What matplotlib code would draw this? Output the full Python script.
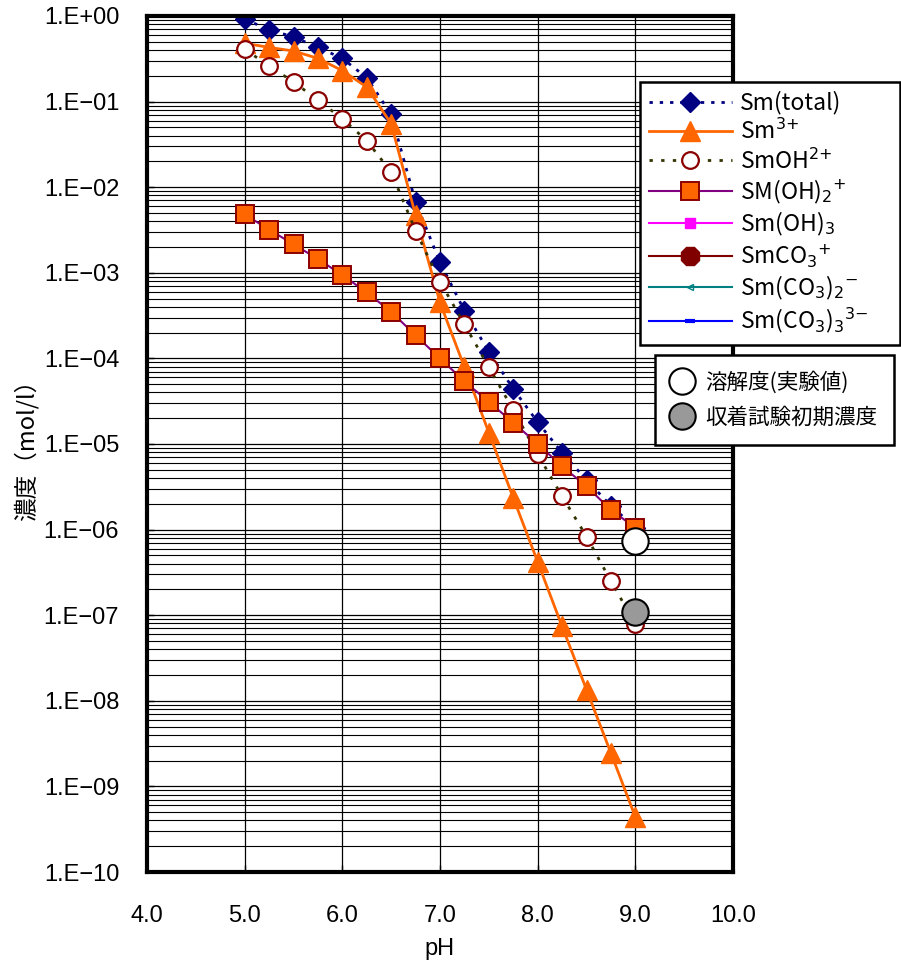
import numpy as np
import matplotlib
matplotlib.use("Agg")
import matplotlib.pyplot as plt
from matplotlib.ticker import FixedLocator, LogLocator, NullFormatter

plt.rcParams['font.family'] = ['Liberation Sans', 'Noto Sans CJK JP', 'DejaVu Sans']
plt.rcParams['mathtext.fontset'] = 'dejavusans'

# pH values of the calculated species
ph = [5.0, 5.25, 5.5, 5.75, 6.0, 6.25, 6.5, 6.75, 7.0, 7.25, 7.5, 7.75, 8.0, 8.25, 8.5, 8.75, 9.0]

sm_total = [0.92, 0.69, 0.57, 0.43, 0.32, 0.19, 0.071, 6.7e-3, 1.33e-3, 3.6e-4, 1.2e-4,
            4.4e-5, 1.8e-5, 7.9e-6, 3.8e-6, 1.9e-6, 1.05e-6]
sm3 = [0.48, 0.43, 0.39, 0.32, 0.23, 0.148, 0.055, 4.7e-3, 4.5e-4, 7.9e-5, 1.36e-5,
       2.35e-6, 4.2e-7, 7.4e-8, 1.35e-8, 2.45e-9, 4.4e-10]
smoh = [0.41, 0.26, 0.17, 0.104, 0.063, 0.035, 0.015, 3.1e-3, 7.9e-4, 2.5e-4, 7.9e-5,
        2.5e-5, 7.6e-6, 2.45e-6, 8.3e-7, 2.5e-7, 7.9e-8]
smoh2 = [4.8e-3, 3.2e-3, 2.15e-3, 1.45e-3, 9.4e-4, 5.9e-4, 3.5e-4, 1.86e-4, 1.0e-4, 5.4e-5,
         3.1e-5, 1.78e-5, 1.0e-5, 5.5e-6, 3.2e-6, 1.7e-6, 1.05e-6]
# species below 1E-10 over the whole range (legend only)
smoh3 = []
smco3 = []
smco3_2 = []
smco3_3 = []

# experimental points
exp_ph = [9.0]
solubility = [7.4e-7]
initial_conc = [1.1e-7]

x_ticks = [4.0, 5.0, 6.0, 7.0, 8.0, 9.0, 10.0]
x_labels = ['4.0', '5.0', '6.0', '7.0', '8.0', '9.0', '10.0']
y_ticks = [1e0, 1e-1, 1e-2, 1e-3, 1e-4, 1e-5, 1e-6, 1e-7, 1e-8, 1e-9, 1e-10]
y_labels = ['1.E+00', '1.E\u221201', '1.E\u221202', '1.E\u221203', '1.E\u221204', '1.E\u221205',
            '1.E\u221206', '1.E\u221207', '1.E\u221208', '1.E\u221209', '1.E\u221210']

fig = plt.figure(figsize=(9.01, 9.68), dpi=100)
ax = fig.add_axes([147 / 901, 1 - 872 / 968, 586 / 901, 856 / 968])
ax.set_yscale('log')
ax.set_xlim(4, 10)
ax.set_ylim(1e-10, 1)

# grid
ax.yaxis.set_minor_locator(LogLocator(base=10, subs=np.arange(2, 10), numticks=200))
ax.yaxis.set_minor_formatter(NullFormatter())
ax.grid(True, which='major', axis='both', color='black', lw=0.9)
ax.grid(True, which='minor', axis='y', color='black', lw=0.8)
ax.set_axisbelow(True)

h_total, = ax.plot(ph, sm_total, color='#000080', ls=(0, (1.2, 2.5)), lw=2,
                   marker='D', ms=10, mfc='#000080', mec='#000080', label='Sm(total)')
h_sm3, = ax.plot(ph, sm3, color='#FF6600', lw=2, marker='^', ms=15,
                 mfc='#FF6600', mec='#FF6600', label='Sm$^{3{+}}$')
h_smoh, = ax.plot(ph, smoh, color='#333300', ls=(0, (1.2, 3)), lw=2, marker='o', ms=12,
                  mfc='white', mec='#8B0000', mew=1.6, label='SmOH$^{2{+}}$')
h_smoh2, = ax.plot(ph, smoh2, color='#800080', lw=1.5, marker='s', ms=13,
                   mfc='#FF6600', mec='#8B0000', mew=1.4, label='SM(OH)$_2$$^{+}$')
h_smoh3, = ax.plot(smoh3, smoh3, color='#FF00FF', lw=1.5, marker='s', ms=7,
                   mfc='#FF00FF', mec='#FF00FF', label='Sm(OH)$_3$')
h_smco3, = ax.plot(smco3, smco3, color='#800000', lw=1.5, marker='8', ms=14,
                   mfc='#800000', mec='#800000', label='SmCO$_3$$^{+}$')
h_smco3_2, = ax.plot(smco3_2, smco3_2, color='#008080', lw=1.5, marker='<', ms=5,
                     mfc='none', mec='#008080', label='Sm(CO$_3$)$_2$$^{-}$')
h_smco3_3, = ax.plot(smco3_3, smco3_3, color='#0000FF', lw=1.5, marker='_', ms=7,
                     mew=3, mec='#0000FF', label='Sm(CO$_3$)$_3$$^{3{-}}$')

h_sol, = ax.plot(exp_ph, solubility, ls='none', marker='o', ms=19, mfc='white',
                 mec='black', mew=1.5, label='溶解度(実験値)')
h_init, = ax.plot(exp_ph, initial_conc, ls='none', marker='o', ms=19, mfc='#999999',
                  mec='black', mew=1.5, label='収着試験初期濃度')

# axes formatting
ax.xaxis.set_major_locator(FixedLocator(x_ticks))
ax.set_xticklabels(x_labels)
ax.yaxis.set_major_locator(FixedLocator(y_ticks))
ax.set_yticklabels(y_labels)
ax.tick_params(axis='both', which='major', direction='in', length=5, width=1,
               labelsize=17)
ax.tick_params(axis='x', pad=24)
ax.tick_params(axis='y', pad=20)
ax.tick_params(which='minor', length=0)
for s in ax.spines.values():
    s.set_linewidth(3)

ax.set_xlabel('pH', fontsize=17, labelpad=8)
ax.set_ylabel('濃度（mol/l）', fontsize=17, labelpad=4,
              family=['Noto Sans CJK JP', 'DejaVu Sans'])

leg1 = ax.legend(handles=[h_total, h_sm3, h_smoh, h_smoh2, h_smoh3, h_smco3, h_smco3_2, h_smco3_3],
                 loc='upper left', bbox_to_anchor=(640 / 901, 1 - 342 / 968, 260 / 901, 260 / 968),
                 mode='expand', bbox_transform=fig.transFigure, borderaxespad=0, fancybox=False,
                 framealpha=1, edgecolor='black', handlelength=3.6, handletextpad=0.35,
                 labelspacing=0.18, borderpad=0.4,
                 prop={'family': ['Noto Sans CJK JP', 'DejaVu Sans'], 'size': 16.5})
leg1.get_frame().set_linewidth(1.8)
ax.add_artist(leg1)

leg2 = ax.legend(handles=[h_sol, h_init], loc='upper left',
                 bbox_to_anchor=(655 / 901, 1 - 355 / 968), bbox_transform=fig.transFigure,
                 borderaxespad=0, fancybox=False, framealpha=1, edgecolor='black',
                 handlelength=1.0, handletextpad=0.6, labelspacing=0.6, borderpad=0.75,
                 prop={'family': ['Noto Sans CJK JP', 'DejaVu Sans'], 'size': 15.5})
leg2.get_frame().set_linewidth(1.8)

fig.savefig('out.png', dpi=100)
